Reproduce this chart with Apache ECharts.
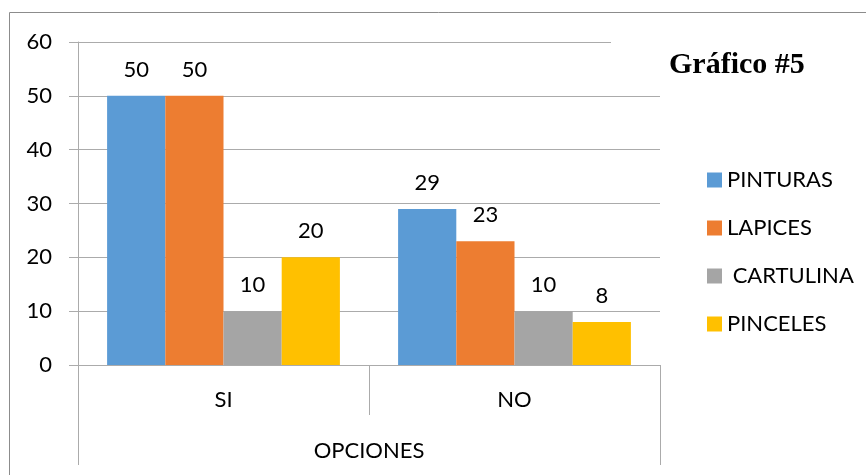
<!DOCTYPE html>
<html>
<head>
<meta charset="utf-8">
<script src="https://cdn.jsdelivr.net/npm/echarts@6/dist/echarts.min.js"></script>
<style>
html,body{margin:0;padding:0;background:#fff;}
#c{width:866px;height:475px;}
</style>
</head>
<body>
<div id="c"></div>
<script>
const categories = ['SI', 'NO'];
const groupLabel = ['OPCIONES'];
const seriesNames = ['PINTURAS', 'LAPICES', ' CARTULINA', 'PINCELES'];
const pinturas = [50, 29];
const lapices = [50, 23];
const cartulina = [10, 10];
const pinceles = [20, 8];
const yTicks = [0, 10, 20, 30, 40, 50, 60];
const titleText = 'Gráfico #5';

const colors = ['#5B9BD5', '#ED7D31', '#A5A5A5', '#FFC000'];
const values = [pinturas, lapices, cartulina, pinceles];
const font = 'Lato, "Open Sans", sans-serif';
const axisGray = '#ababab';

const chart = echarts.init(document.getElementById('c'));
chart.setOption({
  animation: false,
  color: colors,
  graphic: [{
    type: 'rect', z: -10, silent: true,
    shape: {x: 9.5, y: 12.5, width: 900, height: 500},
    style: {fill: 'none', stroke: '#8c8c8c', lineWidth: 1}
  }],
  title: {
    text: titleText,
    left: 611, top: 38,
    padding: [12, 10, 10, 58],
    backgroundColor: '#fff',
    textStyle: {fontFamily: '"Liberation Serif", "Times New Roman", serif', fontWeight: 'bold', fontSize: 30, color: '#000'},
    z: 10
  },
  legend: {
    orient: 'vertical',
    left: 702, top: 164,
    itemWidth: 15, itemHeight: 15,
    itemGap: 26,
    icon: 'rect',
    textStyle: {fontFamily: font, fontSize: 22, color: '#000'},
    data: seriesNames
  },
  grid: {left: 78, right: 206, top: 42, bottom: 110, containLabel: false},
  xAxis: [{
    type: 'category',
    data: categories,
    axisLine: {show: true, lineStyle: {color: axisGray}},
    axisTick: {show: true, length: 50, lineStyle: {color: axisGray}},
    axisLabel: {margin: 24, fontFamily: font, fontSize: 22, color: '#000'},
    splitLine: {show: false}
  }, {
    type: 'category',
    position: 'bottom',
    data: groupLabel,
    axisLine: {show: false},
    axisTick: {show: true, length: 100, lineStyle: {color: axisGray}},
    axisLabel: {margin: 75, fontFamily: font, fontSize: 22, color: '#000'},
    splitLine: {show: false}
  }],
  yAxis: {
    type: 'value',
    min: yTicks[0], max: yTicks[yTicks.length - 1], interval: 10,
    axisLine: {show: true, lineStyle: {color: axisGray}},
    axisTick: {show: true, length: 9, lineStyle: {color: axisGray}},
    axisLabel: {margin: 26, fontFamily: font, fontSize: 22, color: '#000'},
    splitLine: {show: true, lineStyle: {color: axisGray}}
  },
  series: seriesNames.map((n, i) => ({
    name: n,
    type: 'bar',
    xAxisIndex: 0,
    data: values[i],
    barGap: '0%',
    barCategoryGap: '20%',
    label: {show: true, position: 'top', distance: 15, fontFamily: font, fontSize: 22, color: '#000'}
  }))
});
</script>
</body>
</html>
